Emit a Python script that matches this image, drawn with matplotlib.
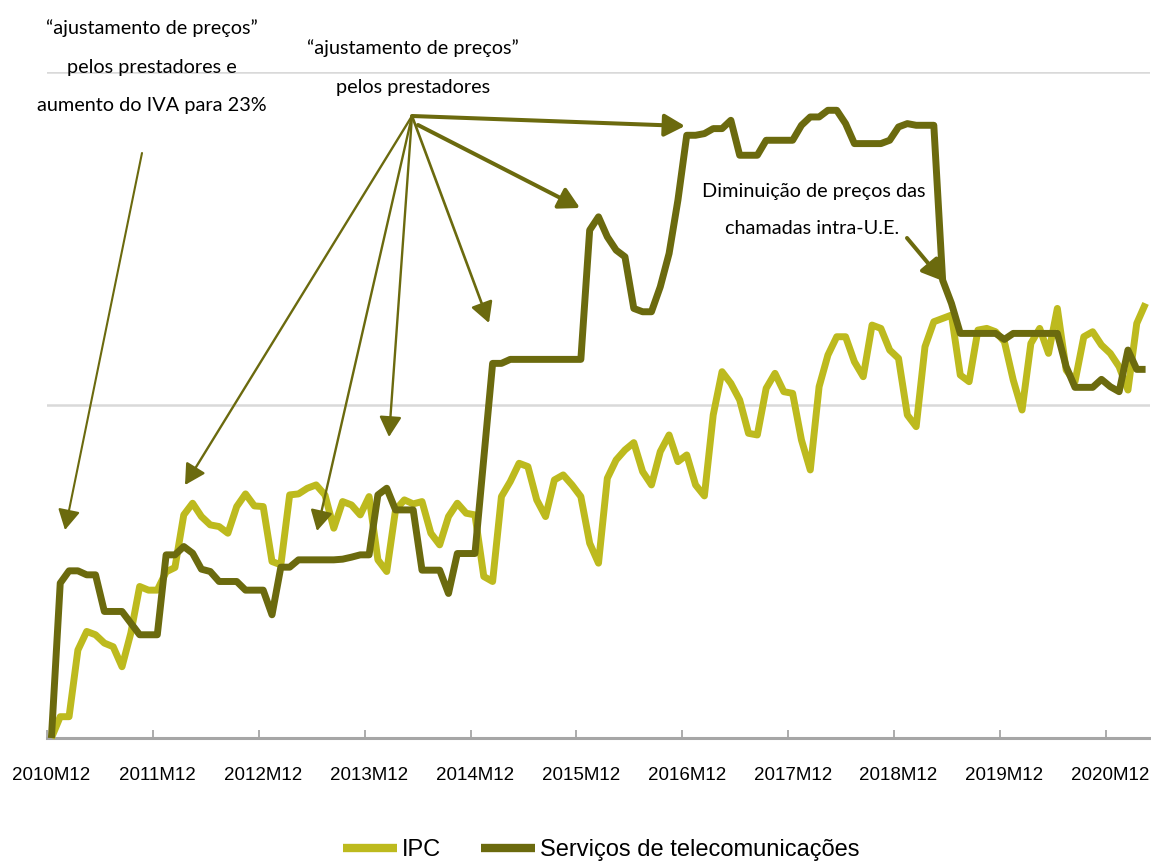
import matplotlib
matplotlib.use("Agg")
import matplotlib.pyplot as plt
import numpy as np

W, H = 1151, 865
SANS = ["Liberation Sans", "DejaVu Sans"]
NOTE = ["Lato", "DejaVu Sans"]
plt.rcParams["font.family"] = SANS

IPC_C = "#BDBA1E"
TEL_C = "#6B6A0E"
ARR_C = "#6B6A0E"
GRID_C = "#D9D9D9"
AXIS_C = "#A6A6A6"

# monthly index, 2010M12 = 100
ipc = [100.0, 100.64, 100.64, 102.64, 103.2, 103.1, 102.85, 102.74, 102.14, 103.15,
       104.55, 104.44, 104.44, 104.99, 105.12, 106.7, 107.05, 106.65, 106.4, 106.35,
       106.15, 106.95, 107.33, 106.97, 106.95, 105.3, 105.2, 107.3, 107.33, 107.5,
       107.6, 107.3, 106.3, 107.1, 107.0, 106.7, 107.25, 105.35, 105.0, 106.85,
       107.15, 107.03, 107.1, 106.15, 105.8, 106.65, 107.05, 106.75, 106.7, 104.85,
       104.7, 107.25, 107.7, 108.25, 108.15, 107.15, 106.65, 107.75, 107.9, 107.6,
       107.25, 105.85, 105.25, 107.8, 108.35, 108.65, 108.87, 108.0, 107.6, 108.6,
       109.1, 108.3, 108.5, 107.6, 107.27, 109.7, 111.0, 110.65, 110.15, 109.15,
       109.1, 110.5, 110.95, 110.4, 110.35, 108.95, 108.05, 110.55, 111.5, 112.05,
       112.05, 111.3, 110.85, 112.4, 112.3, 111.65, 111.4, 109.7, 109.35, 111.75,
       112.5, 112.6, 112.7, 110.9, 110.7, 112.25, 112.3, 112.2, 111.9, 110.75,
       109.85, 111.85, 112.3, 111.55, 112.9, 111.05, 110.7, 112.05, 112.2, 111.8,
       111.55, 111.15, 110.45, 112.45, 113.05]

telecom = [100.0, 104.65, 105.02, 105.02, 104.9, 104.9, 103.8, 103.8, 103.8, 103.45,
           103.1, 103.1, 103.1, 105.5, 105.5, 105.75, 105.55, 105.07, 105.0, 104.7,
           104.7, 104.7, 104.44, 104.44, 104.44, 103.7, 105.13, 105.13, 105.35, 105.35,
           105.35, 105.35, 105.35, 105.37, 105.43, 105.5, 105.5, 107.3, 107.5, 106.85,
           106.85, 106.85, 105.04, 105.04, 105.04, 104.34, 105.54, 105.54, 105.54, 108.4,
           111.25, 111.25, 111.37, 111.37, 111.37, 111.37, 111.37, 111.37, 111.37, 111.37,
           111.37, 115.25, 115.65, 115.05, 114.65, 114.45, 112.9, 112.8, 112.8, 113.55,
           114.55, 116.15, 118.1, 118.1, 118.15, 118.3, 118.3, 118.55, 117.5, 117.5,
           117.5, 117.95, 117.95, 117.95, 117.95, 118.4, 118.65, 118.65, 118.85, 118.85,
           118.45, 117.85, 117.85, 117.85, 117.85, 117.95, 118.35, 118.45, 118.4, 118.4,
           118.4, 113.75, 113.05, 112.15, 112.15, 112.15, 112.15, 112.15, 111.97, 112.15,
           112.15, 112.15, 112.15, 112.15, 112.15, 111.15, 110.53, 110.53, 110.53, 110.77,
           110.55, 110.4, 111.65, 111.07, 111.07]

years = list(range(2010, 2021))
tick_labels = [f"{y}M12" for y in years]
series_names = ["IPC", "Serviços de telecomunicações"]

months = np.arange(len(ipc))


def px(x, y):
    # pixel position (from top-left) -> figure fraction
    return (x / W, 1 - y / H)


fig = plt.figure(figsize=(W / 100, H / 100), dpi=100)
ax = fig.add_axes([47 / W, 1 - 738 / H, 1103 / W, 666 / H])

ax.plot(months, ipc, color=IPC_C, lw=5.0, solid_joinstyle="round",
        solid_capstyle="butt", clip_on=False, zorder=3, label=series_names[0])
ax.plot(months, telecom, color=TEL_C, lw=5.0, solid_joinstyle="round",
        solid_capstyle="butt", clip_on=False, zorder=4, label=series_names[1])

ax.set_xlim(-0.5, len(ipc) - 0.5)
ax.set_ylim(100, 120)
ax.set_yticks([100, 110, 120])
ax.yaxis.grid(True, color=GRID_C, lw=1.8)
ax.set_axisbelow(True)
ax.tick_params(axis="y", left=False, labelleft=False)

for s in ["top", "right", "left"]:
    ax.spines[s].set_visible(False)
ax.spines["bottom"].set_color(AXIS_C)
ax.spines["bottom"].set_linewidth(2.2)
ax.spines["bottom"].set_zorder(2)

# year boundaries get the tick marks, the labels sit on the December point
ax.set_xticks([12 * i - 0.5 for i in range(len(years))])
ax.set_xticklabels([])
ax.tick_params(axis="x", which="major", direction="in", length=6, width=1.3,
               color=AXIS_C)
ax.set_xticks([12 * i for i in range(len(years))], minor=True)
ax.set_xticklabels(tick_labels, minor=True)
ax.tick_params(axis="x", which="minor", length=0, pad=21, labelsize=13.5,
               labelcolor="black")

leg = fig.legend(loc="center", bbox_to_anchor=px(601, 850), ncol=2, frameon=False,
                 fontsize=17, handlelength=2.3, handletextpad=0.2, columnspacing=1.7)
for h in leg.legend_handles:
    h.set_linewidth(6)

# annotations
txt = dict(fontsize=14.3, ha="center", va="center", color="black", family=NOTE)
for s, (x, y) in [("“ajustamento de preços”", (152, 28)),
                  ("pelos prestadores e", (152, 68)),
                  ("aumento do IVA para 23%", (152, 106)),
                  ("“ajustamento de preços”", (413, 48)),
                  ("pelos prestadores", (413, 88)),
                  ("Diminuição de preços das", (814, 192)),
                  ("chamadas intra-U.E.", (812, 228))]:
    fig.text(*px(x, y), s, **txt)


def arrow(start, end, lw):
    ax.annotate("", xy=px(*end), xytext=px(*start),
                xycoords="figure fraction", textcoords="figure fraction",
                arrowprops=dict(arrowstyle="-|>,head_length=0.62,head_width=0.34",
                                color=ARR_C, lw=lw, mutation_scale=20,
                                shrinkA=0, shrinkB=0),
                annotation_clip=False, zorder=6)


arrow((142, 153), (65, 530), 1.5)
origin = (412, 116)
arrow(origin, (185, 485), 1.7)
arrow(origin, (317, 531), 1.7)
arrow(origin, (389, 437), 1.7)
arrow(origin, (489, 323), 1.9)
arrow((418, 125), (580, 208), 2.9)
arrow(origin, (685, 126), 2.9)
arrow((907, 238), (943, 281), 2.9)

fig.savefig("out.png", dpi=100)
